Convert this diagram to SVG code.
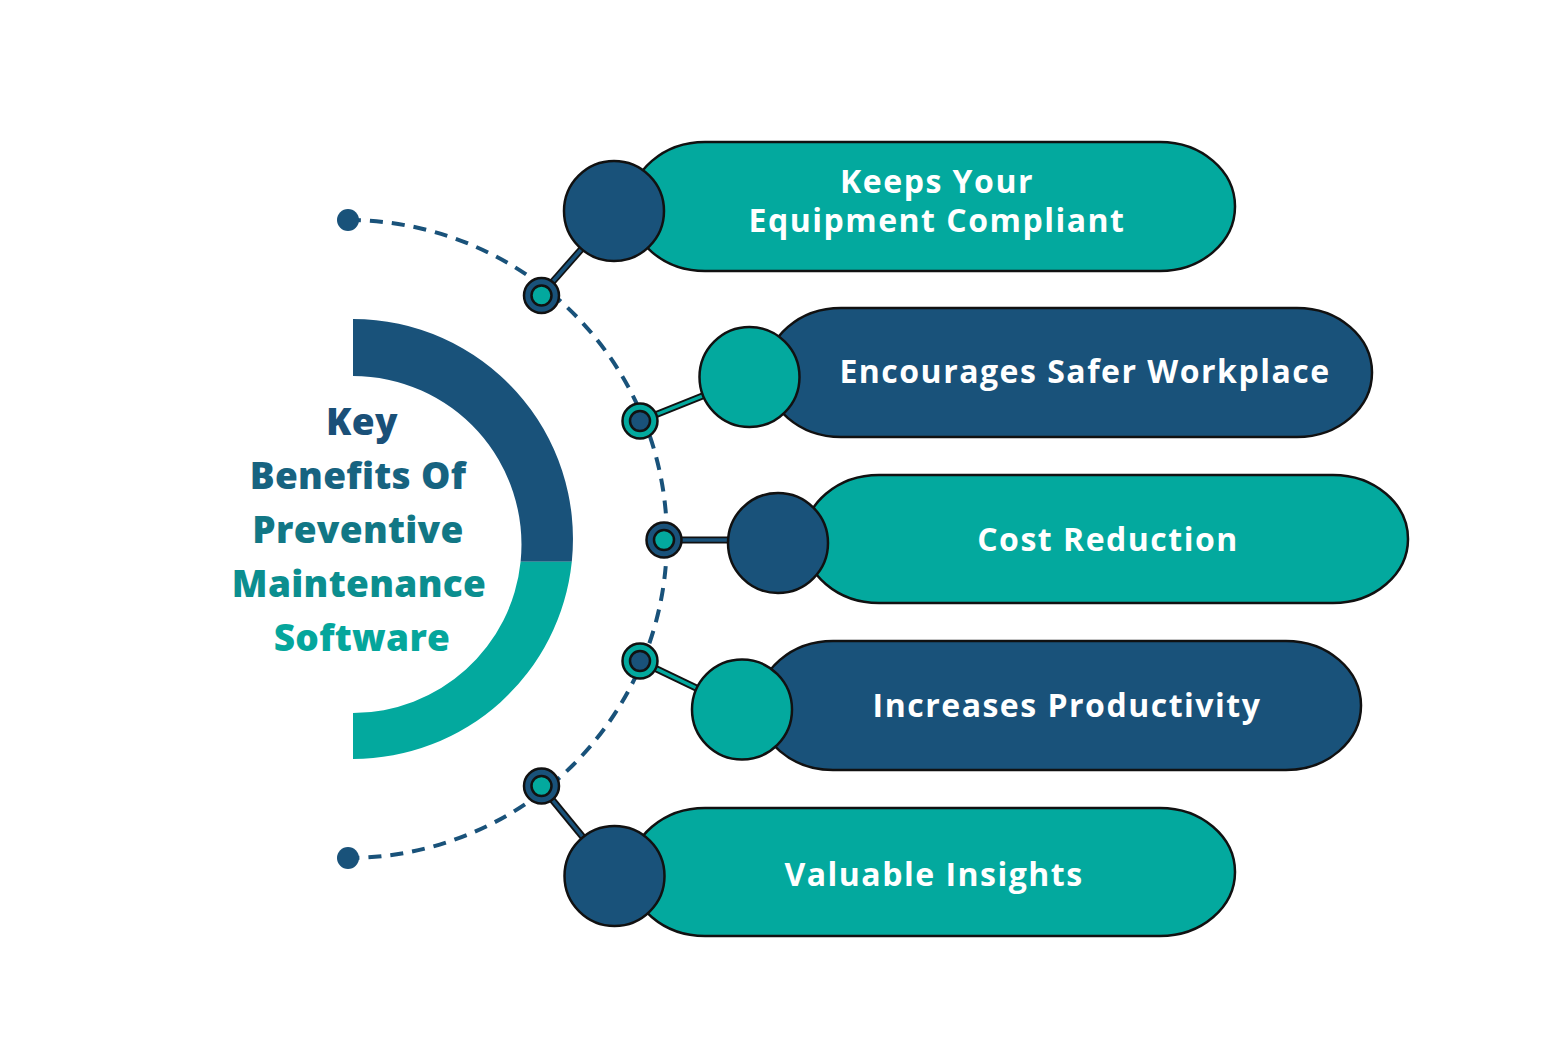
<svg xmlns="http://www.w3.org/2000/svg" width="1563" height="1042" viewBox="0 0 1563 1042">
<style>
.dark{fill:#19527a}
.teal{fill:#03a99e}
.ol{stroke:#111;stroke-width:2.5}
.lbl{font-family:"Open Sans","Liberation Sans",sans-serif;font-weight:700;font-size:32px;letter-spacing:1.5px;fill:#fff;text-anchor:middle}
.ttl{font-family:"Open Sans","Liberation Sans",sans-serif;font-weight:800;font-size:37px;letter-spacing:0.3px;text-anchor:middle}
.cb{stroke:#111;stroke-width:7;stroke-linecap:butt}
.cd{stroke:#19527a;stroke-width:3.5}
.ct{stroke:#03a99e;stroke-width:3.5}
</style>
<rect width="1563" height="1042" fill="#fff"/>
<g id="ring">
<path class="dark" d="M353,319 A220,220 0 0 1 571.8,561.7 L520.6,561.7 A168.5,168.5 0 0 0 353,376 Z"/>
<path class="teal" d="M571.8,561.7 A220,220 0 0 1 353,759 L353,713 A168.5,168.5 0 0 0 520.6,561.7 Z"/>
</g>
<g id="title" class="ttl">
<text x="362" y="435" fill="#1a5078">Key</text>
<text x="358" y="489" fill="#176380">Benefits Of</text>
<text x="358" y="543" fill="#127785">Preventive</text>
<text x="359" y="597" fill="#0b8e8f">Maintenance</text>
<text x="362" y="651" fill="#05a69c">Software</text>
</g>
<g id="connectors">
<path d="M348,220 A319,319 0 0 1 348,858" fill="none" stroke="#19527a" stroke-width="4" stroke-dasharray="13 9"/>
<circle cx="348" cy="220" r="11" class="dark"/>
<circle cx="348" cy="858" r="11" class="dark"/>
<line x1="541" y1="295" x2="600" y2="228" class="cb"/>
<line x1="541" y1="295" x2="600" y2="228" class="cd"/>
<line x1="640" y1="421" x2="720" y2="389" class="cb"/>
<line x1="640" y1="421" x2="720" y2="389" class="ct"/>
<line x1="664" y1="540" x2="740" y2="540" class="cb"/>
<line x1="664" y1="540" x2="740" y2="540" class="cd"/>
<line x1="640" y1="661" x2="715" y2="697" class="cb"/>
<line x1="640" y1="661" x2="715" y2="697" class="ct"/>
<line x1="541" y1="786" x2="600" y2="858" class="cb"/>
<line x1="541" y1="786" x2="600" y2="858" class="cd"/>
<g id="j1"><circle cx="541.5" cy="295.5" r="17.5" class="dark ol"/><circle cx="541.5" cy="295.5" r="10" class="teal ol"/></g>
<g id="j2"><circle cx="640" cy="421" r="17.5" class="teal ol"/><circle cx="640" cy="421" r="10" class="dark ol"/></g>
<g id="j3"><circle cx="664" cy="540" r="17.5" class="dark ol"/><circle cx="664" cy="540" r="10" class="teal ol"/></g>
<g id="j4"><circle cx="640" cy="661" r="17.5" class="teal ol"/><circle cx="640" cy="661" r="10" class="dark ol"/></g>
<g id="j5"><circle cx="541.5" cy="786" r="17.5" class="dark ol"/><circle cx="541.5" cy="786" r="10" class="teal ol"/></g>
</g>
<g id="node1">
<rect x="630" y="142" width="605" height="129" rx="75" ry="64.5" class="teal ol"/>
<circle cx="614" cy="211" r="50" class="dark ol"/>
<text class="lbl" x="937" y="193">Keeps Your</text>
<text class="lbl" x="937" y="232">Equipment Compliant</text>
</g>
<g id="node2">
<rect x="766" y="308" width="606" height="129" rx="75" ry="64.5" class="dark ol"/>
<circle cx="749.5" cy="377" r="50" class="teal ol"/>
<text class="lbl" x="1085" y="383">Encourages Safer Workplace</text>
</g>
<g id="node3">
<rect x="804" y="475" width="604" height="128" rx="75" ry="64" class="teal ol"/>
<circle cx="778" cy="543" r="50" class="dark ol"/>
<text class="lbl" x="1108" y="551">Cost Reduction</text>
</g>
<g id="node4">
<rect x="758" y="641" width="603" height="129" rx="75" ry="64.5" class="dark ol"/>
<circle cx="742" cy="709.5" r="50" class="teal ol"/>
<text class="lbl" x="1067" y="717">Increases Productivity</text>
</g>
<g id="node5">
<rect x="630" y="808" width="605" height="128" rx="75" ry="64" class="teal ol"/>
<circle cx="614.5" cy="876" r="50" class="dark ol"/>
<text class="lbl" x="934" y="886">Valuable Insights</text>
</g>
</svg>
